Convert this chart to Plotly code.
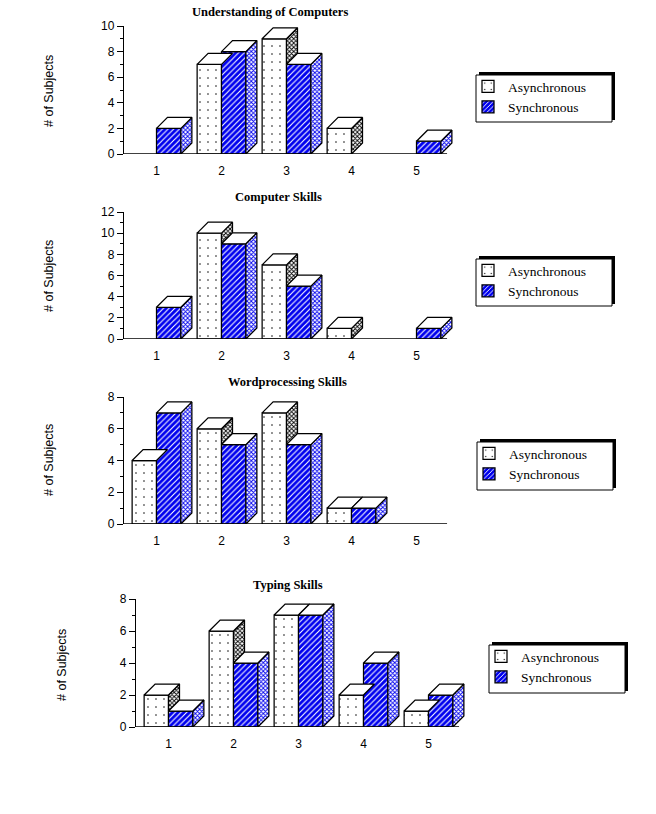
import plotly.graph_objects as go

categories = [1, 2, 3, 4, 5]
titles = ["Understanding of Computers", "Computer Skills", "Wordprocessing Skills", "Typing Skills"]
async_values = [
    [0, 7, 9, 2, 0],
    [0, 10, 7, 1, 0],
    [4, 6, 7, 1, 0],
    [2, 6, 7, 2, 1],
]
sync_values = [
    [2, 8, 7, 0, 1],
    [3, 9, 5, 0, 1],
    [7, 5, 5, 1, 0],
    [1, 4, 7, 4, 2],
]
y_max = [10, 12, 8, 8]

W, H = 656, 814
# panel geometry in pixels: left, right, top, bottom
panels = [(124, 449, 26, 154), (124, 449, 212, 339), (124, 449, 397, 524), (136, 461, 599, 727)]
legend_boxes = [(476, 75, 612, 122), (476, 259, 612, 306), (477, 442, 613, 490), (489, 645, 625, 693)]
title_pos = [(270, 12), (278, 197), (287, 382), (288, 585)]
ylabel_pos = [(49, 91), (49, 276), (49, 460), (62, 665)]
DEPTH = 11
BAR = 0.375
EXTRA = 6  # px of room to the right of the last category for the 3D side faces
BLUE = "#0000ee"
LW = 1.25


def dots():
    return dict(shape=".", size=8, solidity=0.03, fgcolor="black", bgcolor="white", fillmode="replace")


def hatch():
    return dict(shape="/", size=4, solidity=0.28, fgcolor="white", bgcolor=BLUE, fillmode="replace")


def fine(color):
    return dict(shape="x", size=3, solidity=0.5, fgcolor=color, bgcolor="white", fillmode="replace")


fig = go.Figure()


def face(xs, ys, axis_x, axis_y, pattern=None):
    kw = dict(fillpattern=pattern) if pattern else dict(fillcolor="white")
    fig.add_trace(go.Scatter(
        x=xs, y=ys, xaxis=axis_x, yaxis=axis_y, mode="lines", fill="toself",
        line=dict(color="black", width=LW), showlegend=False, hoverinfo="skip",
        cliponaxis=False, **kw))


for i in range(4):
    ax_x = "x" if i == 0 else f"x{i + 1}"
    ax_y = "y" if i == 0 else f"y{i + 1}"
    legend = "legend" if i == 0 else f"legend{i + 1}"
    l, r, t, b = panels[i]
    cat_px = (r - l) / 5
    dx = DEPTH / cat_px
    dy = DEPTH / ((b - t) / y_max[i])

    fig.add_trace(go.Bar(
        x=categories, y=[v or None for v in async_values[i]], name="Asynchronous",
        xaxis=ax_x, yaxis=ax_y, legend=legend,
        marker=dict(color="white", line=dict(color="black", width=LW), pattern=dots())))
    fig.add_trace(go.Bar(
        x=categories, y=[v or None for v in sync_values[i]], name="Synchronous",
        xaxis=ax_x, yaxis=ax_y, legend=legend,
        marker=dict(color=BLUE, line=dict(color="black", width=LW), pattern=hatch())))

    for c, a, s in zip(categories, async_values[i], sync_values[i]):
        # scatter faces sit above the bars, so the dark side of the front series is cut at the next bar's height
        if a > 0:
            xa0, xa1 = c - BAR, c
            if a > s:
                face([xa1, xa1 + dx, xa1 + dx, xa1, xa1], [s, s + dy, a + dy, a, s], ax_x, ax_y, fine("black"))
            face([xa0, xa0 + dx, xa1 + dx, xa1, xa0], [a, a + dy, a + dy, a, a], ax_x, ax_y)
        if s > 0:
            xs0, xs1 = c, c + BAR
            face([xs1, xs1 + dx, xs1 + dx, xs1, xs1], [0, dy, s + dy, s, 0], ax_x, ax_y, fine(BLUE))
            face([xs0, xs0 + dx, xs1 + dx, xs1, xs0], [s, s + dy, s + dy, s, s], ax_x, ax_y)

    xkey = "xaxis" if i == 0 else f"xaxis{i + 1}"
    ykey = "yaxis" if i == 0 else f"yaxis{i + 1}"
    fig.update_layout({
        xkey: dict(domain=[l / W, (r + EXTRA) / W], range=[0.5, 5.5 + EXTRA / cat_px], anchor=ax_y,
                   tickvals=categories, ticks="", showgrid=False, zeroline=False, showline=False,
                   ticklabelstandoff=8, tickfont=dict(family="Liberation Sans", size=12, color="black")),
        ykey: dict(domain=[1 - b / H, 1 - t / H], range=[0, y_max[i]], anchor=ax_x, dtick=2, ticks="outside",
                   ticklen=6, tickcolor="black", showgrid=False, zeroline=False, showline=True,
                   linecolor="black", linewidth=LW,
                   minor=dict(dtick=1, ticks="outside", ticklen=3, tickcolor="black"),
                   tickfont=dict(family="Liberation Sans", size=12, color="black")),
    })
    fig.add_shape(type="line", xref=ax_x, yref=ax_y, x0=0.5, x1=5.47, y0=0, y1=0,
                  line=dict(color="black", width=1.5), layer="above")

    x0, y0, x1, y1 = legend_boxes[i]
    fig.add_shape(type="rect", xref="paper", yref="paper", x0=(x0 + 3) / W, x1=(x1 + 3) / W,
                  y0=1 - (y1 - 2) / H, y1=1 - (y0 - 3) / H, fillcolor="black",
                  line=dict(color="black", width=0), layer="below")
    fig.add_shape(type="rect", xref="paper", yref="paper", x0=x0 / W, x1=x1 / W,
                  y0=1 - y1 / H, y1=1 - y0 / H, fillcolor="white",
                  line=dict(color="black", width=1), layer="below")
    fig.update_layout({legend: dict(
        x=(x0 - 8) / W, y=1 - (y0 - 4) / H, xanchor="left", yanchor="top", bgcolor="rgba(0,0,0,0)",
        borderwidth=0, font=dict(family="Liberation Serif", size=13.5, color="black"),
        itemwidth=30, tracegroupgap=0)})

    tx, ty = title_pos[i]
    fig.add_annotation(x=tx / W, y=1 - ty / H, xref="paper", yref="paper", text=f"<b>{titles[i]}</b>",
                       xanchor="center", yanchor="middle", showarrow=False,
                       font=dict(family="Liberation Serif", size=12.5, color="black"))
    lx, ly = ylabel_pos[i]
    fig.add_annotation(x=lx / W, y=1 - ly / H, xref="paper", yref="paper", text="# of Subjects", textangle=-90,
                       xanchor="center", yanchor="middle", showarrow=False,
                       font=dict(family="Liberation Sans", size=12.5, color="black"))

fig.update_layout(width=W, height=H, margin=dict(l=0, r=0, t=0, b=0, autoexpand=False), barmode="group",
                  bargap=0.25, bargroupgap=0, paper_bgcolor="white", plot_bgcolor="rgba(0,0,0,0)")
fig.write_html("out.html", config=dict(displayModeBar=False), post_script="document.body.style.margin='0';")
